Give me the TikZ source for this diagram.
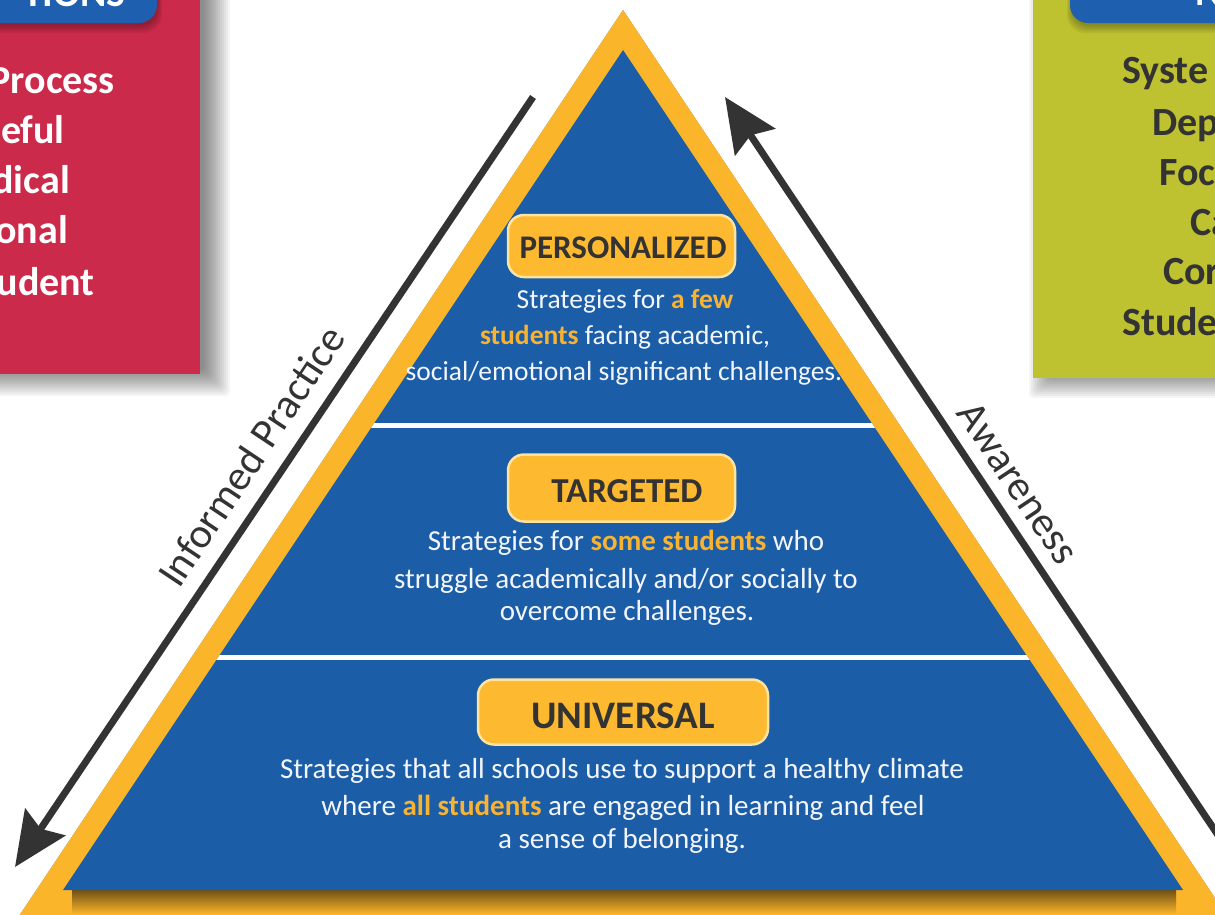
\documentclass[tikz,border=0pt]{standalone}
\usepackage{fontspec}
\setmainfont{Carlito}
\usetikzlibrary{arrows.meta}
\definecolor{pyrblue}{HTML}{1B5DA6}
\definecolor{pyrorange}{HTML}{FBB52B}
\definecolor{pillorange}{HTML}{FDBA30}
\definecolor{pillglow}{HTML}{FFE3A0}
\definecolor{boxred}{HTML}{CC2A4A}
\definecolor{boxgreen}{HTML}{BEC130}
\definecolor{tabblue}{HTML}{1E5FAF}
\definecolor{darktext}{HTML}{333333}
\definecolor{hiorange}{HTML}{F8B332}
\definecolor{softwhite}{HTML}{F3F5FC}
\newcommand\hiword[1]{\textcolor{hiorange}{\bfseries #1}}
\begin{document}
\begin{tikzpicture}[x=1pt,y=-1pt,
  pill/.style={fill=pillorange, draw=pillglow, line width=2.5pt, rounded corners=16pt, inner sep=0pt},
  pilltext/.style={text=darktext, inner sep=0pt, anchor=base},
  bodyline/.style={text=softwhite, inner sep=0pt, anchor=base, font=\fontsize{29}{35}\selectfont},
  smallline/.style={text=softwhite, inner sep=0pt, anchor=base, font=\fontsize{27.5}{33}\selectfont},
  sidearrow/.style={draw=darktext, line width=7pt, -{Stealth[length=54pt,width=48pt,inset=8pt]}},
  sidelabel/.style={text=darktext, inner sep=0pt, font=\fontsize{42}{45}\selectfont},
  redline/.style={text=white, inner sep=0pt, anchor=base east, font=\fontsize{40}{44}\selectfont\bfseries},
  greenline/.style={text=darktext, inner sep=0pt, anchor=base west, font=\fontsize{40}{44}\selectfont\bfseries},
  tabtext/.style={text=white, inner sep=0pt, font=\fontsize{40}{44}\selectfont\bfseries},
]
\useasboundingbox (0,0) rectangle (1215,914);
\fill[white] (0,0) rectangle (1215,914);

% ---------- left red box ----------
\foreach \i in {0,...,13}{
  \fill[black, opacity=0.04, rounded corners=4pt] (-30,-30) rectangle ({230-2*\i},{396-2*\i});
}
\fill[boxred] (-30,-30) rectangle (200,374);
\foreach \i in {0,...,5}{
  \fill[black, opacity=0.05, rounded corners=18pt] (-30,-30) rectangle ({162-\i},{33-1.5*\i});
}
\fill[tabblue, rounded corners=18pt] (-30,-30) rectangle (157,23);
\node[tabtext, anchor=base east] (tabL) at (126,6) {TIONS};
\node[redline] (r1) at (115,93) {Process};
\node[redline] (r2) at (65,143) {eful};
\node[redline] (r3) at (70,193) {dical};
\node[redline] (r4) at (68,243) {onal};
\node[redline] (r5) at (95,295) {udent};

% ---------- right green box ----------
\foreach \i in {0,...,11}{
  \fill[black, opacity=0.04, rounded corners=4pt] ({1029+2*\i},-30) rectangle (1245,{398-2*\i});
}
\fill[boxgreen] (1033,-30) rectangle (1245,378);
\foreach \i in {0,...,5}{
  \fill[black, opacity=0.05, rounded corners=18pt] ({1067+\i},-30) rectangle (1245,{33-1.5*\i});
}
\fill[tabblue, rounded corners=18pt] (1070,-30) rectangle (1245,23);
\node[tabtext, anchor=base west] (tabR) at (1195,5) {N};
\node[greenline] (g1) at (1122,83) {Syste};
\node[greenline] (g2) at (1152,135) {Dep};
\node[greenline] (g3) at (1159,185) {Foc};
\node[greenline] (g4) at (1190,235) {Ca};
\node[greenline] (g5) at (1163,284) {Cor};
\node[greenline] (g6) at (1122,335) {Stude};

% ---------- pyramid ----------
\coordinate (oTop) at (623,10);
\coordinate (oL) at (3,940);
\coordinate (oR) at (1243,940);
\coordinate (bTop) at (623,50);
\coordinate (bL) at (63,890);
\coordinate (bR) at (1183,890);

\foreach \i in {1,...,12}{
  \fill[black, opacity=0.045, shift={({1.7*\i},{0.4*\i})}] (oTop) -- (oL) -- (oR) -- cycle;
}
\fill[pyrorange] (oTop) -- (oL) -- (oR) -- cycle;
\shade[top color=pyrorange!45!black, bottom color=pyrorange] (72,890) rectangle (1176,914);
\fill[pyrblue] (bTop) -- (bL) -- (bR) -- cycle;
\begin{scope}
  \clip (bTop) -- (bL) -- (bR) -- cycle;
  \draw[white, line width=5pt] (0,425) -- (1215,425);
  \draw[white, line width=5pt] (0,657) -- (1215,657);
\end{scope}

% ---------- side arrows ----------
\coordinate (laStart) at (533,97);
\coordinate (laEnd) at (15,867);
\coordinate (raStart) at (1280,928);
\coordinate (raEnd) at (725,97);
\draw[sidearrow] (laStart) -- (laEnd);
\draw[sidearrow] (raStart) -- (raEnd);
\node[sidelabel, rotate=56.3] (lblIP) at (251,456) {Informed Practice};
\node[sidelabel, rotate=-56.3] (lblAw) at (1018,483) {Awareness};

% ---------- tier 1: personalized ----------
\node[pill, minimum width=227pt, minimum height=62pt] (pillP) at (621.5,246) {};
\node[pilltext, font=\fontsize{33}{36}\selectfont\bfseries] (tP) at (623,258) {PERSONALIZED};
\node[smallline] (p1) at (625,308) {Strategies for \hiword{a few}};
\node[smallline] (p2) at (625,344) {\hiword{students} facing academic,};
\node[smallline] (p3) at (624,380) {social/emotional significant challenges.};

% ---------- tier 2: targeted ----------
\node[pill, minimum width=227pt, minimum height=67pt] (pillT) at (621.5,488) {};
\node[pilltext, font=\fontsize{35}{38}\selectfont\bfseries] (tT) at (627,502) {TARGETED};
\node[bodyline] (t1) at (626,550) {Strategies for \hiword{some students} who};
\node[bodyline] (t2) at (626,588) {struggle academically and/or socially to};
\node[bodyline] (t3) at (627,620) {overcome challenges.};

% ---------- tier 3: universal ----------
\node[pill, minimum width=290pt, minimum height=65pt] (pillU) at (623,712) {};
\node[pilltext, font=\fontsize{39}{42}\selectfont\bfseries] (tU) at (623,728) {UNIVERSAL};
\node[bodyline] (u1) at (622,778) {Strategies that all schools use to support a healthy climate};
\node[bodyline] (u2) at (623,815) {where \hiword{all students} are engaged in learning and feel};
\node[bodyline] (u3) at (622,848) {a sense of belonging.};
\end{tikzpicture}
\end{document}
